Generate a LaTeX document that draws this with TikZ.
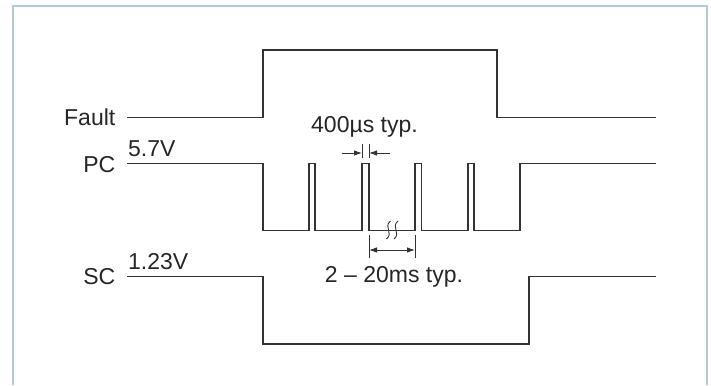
\documentclass[tikz,border=0pt]{standalone}
\usepackage{fontspec}
\setmainfont{Liberation Sans}
\usetikzlibrary{arrows.meta}
\definecolor{azulclaro}{RGB}{172,204,214}
\begin{document}
\begin{tikzpicture}[
  x=1pt, y=-1pt,
  every node/.style={inner sep=0pt, font=\fontsize{23}{27}\selectfont, text=black!85},
  sinal/.style={draw=black!80, line width=1.2pt},
  cota/.style={draw=black!80, line width=0.9pt}
]
\tikzset{
  moldura/.style={draw=azulclaro, line width=2pt},
  seta/.style={cota, -{Latex[length=8pt,width=5.5pt]}},
  setadupla/.style={cota, {Latex[length=8pt,width=5.5pt]}-{Latex[length=8pt,width=5.5pt]}}
}
\useasboundingbox (0,0) rectangle (711,385);
\draw[moldura] (12.5,385) -- (12.5,6) -- (707,6) -- (707,385);

% rotulos
\node[anchor=east] (fault) at (115.5,117.5) {Fault};
\node[anchor=east] (pc) at (115.5,164.5) {PC};
\node[anchor=east] (sc) at (115.5,276.5) {SC};
\node[anchor=base west] (v57) at (128,156) {5.7V};
\node[anchor=base west] (v123) at (128,269) {1.23V};
\node[anchor=base] (t400) at (364.5,132) {400µs typ.};
\node[anchor=base] (t20) at (394,282) {2 -- 20ms typ.};

% sinais
\draw[sinal] (127,117.5) -| (263,50) -| (497,117.5) -- (656,117.5);
\draw[sinal] (127,163.5) -| (263,230.5) -| (309,163.5) -| (315,230.5)
  -| (362,163.5) -| (369,230.5) -| (415,163.5) -| (421.5,230.5)
  -| (468,163.5) -| (474,230.5) -| (520,163.5) -- (656,163.5);
\draw[sinal] (127,276.5) -| (263,344) -| (529,276.5) -- (656,276.5);

% quebra
\foreach \x in {388.5,396}
  \draw[cota] (\x+2,221) .. controls (\x-5.5,227) and (\x+5.5,233) .. (\x-2,239);

% cotas
\coordinate (a1) at (362,153);
\coordinate (a2) at (369,153);
\coordinate (b1) at (369,250);
\coordinate (b2) at (415,250);
\draw[cota] (362,144) -- (362,158);
\draw[cota] (369,144) -- (369,158);
\draw[seta] (341.5,153) -- (a1);
\draw[seta] (389.5,153) -- (a2);
\draw[cota] (369,235) -- (369,258);
\draw[cota] (415,235) -- (415,258);
\draw[setadupla] (b1) -- (b2);
\end{tikzpicture}
\end{document}
